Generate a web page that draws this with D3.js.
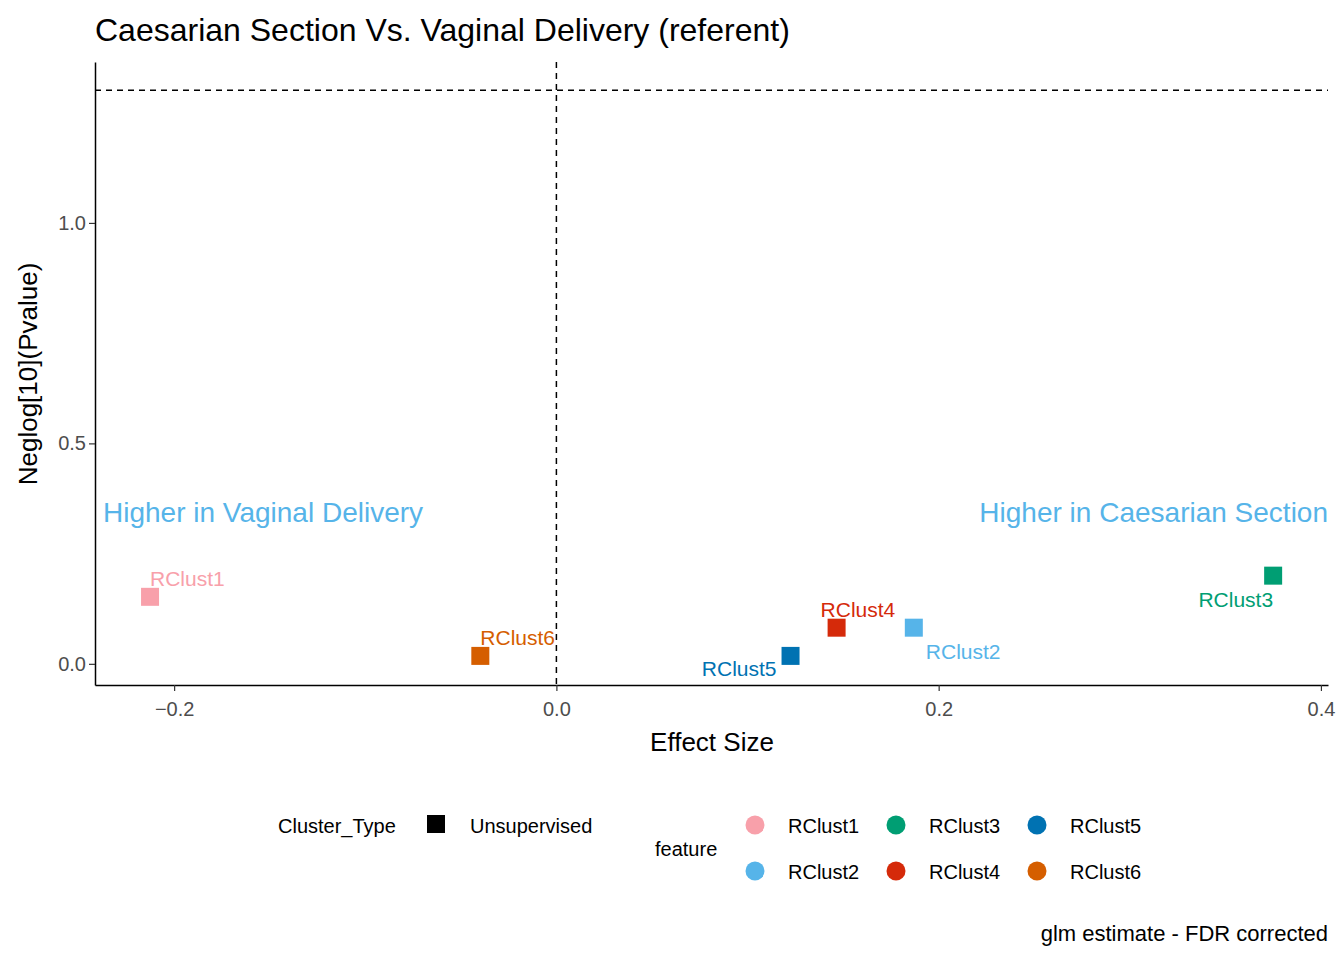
<!DOCTYPE html>
<html><head><meta charset="utf-8">
<script src="https://cdn.jsdelivr.net/npm/d3@7"></script>
<style>body{margin:0;background:#fff;font-family:Arial,"Liberation Sans",sans-serif}</style>
</head><body><svg id="c" width="1344" height="960"></svg>
<script>
var features = ['RClust1','RClust2','RClust3','RClust4','RClust5','RClust6']
var effect = [-0.2126, 0.187, 0.375, 0.1466, 0.1225, -0.0398]
var neglogP = [0.152, 0.082, 0.2, 0.082, 0.018, 0.018]
var colors = ['#F8A0AA','#56B4E9','#009E73','#D52A0A','#0072B2','#D55E00']
// label offsets (dx, dy, anchor) to mimic ggrepel placement
var labelPos = [[0,-18,'start'],[12,24,'start'],[0,24,'end'],[-16,-18,'start'],[-14,13,'end'],[0,-18,'start']]
var xTicks = [-0.2, 0, 0.2, 0.4]
var yTicks = [0, 0.5, 1.0]

var svg = d3.select('#c')
var x = d3.scaleLinear().domain([-0.2414, 0.4037]).range([95, 1328])
var y = d3.scaleLinear().domain([-0.048, 1.365]).range([685, 62])

svg.append('text').attr('x', 95).attr('y', 41).attr('font-size', 32).text('Caesarian Section Vs. Vaginal Delivery (referent)')

var xa = svg.append('g').attr('transform', 'translate(0,685)')
  .call(d3.axisBottom(x).tickValues(xTicks).tickFormat(d3.format('.1f')).tickSizeOuter(0))
var ya = svg.append('g').attr('transform', 'translate(95,0)')
  .call(d3.axisLeft(y).tickValues(yTicks).tickFormat(d3.format('.1f')).tickSizeOuter(0))
;[xa, ya].forEach(function(a) {
  a.selectAll('path').attr('stroke', '#000').attr('stroke-width', 1.5)
  a.selectAll('line').attr('stroke', '#333').attr('stroke-width', 1.2)
  a.selectAll('text').attr('font-size', 20).attr('fill', '#4d4d4d').attr('font-family', 'Arial,Liberation Sans')
})
xa.selectAll('text').attr('dy', '1.1em')

svg.append('text').attr('x', 712).attr('y', 751).attr('text-anchor', 'middle').attr('font-size', 26).text('Effect Size')
svg.append('text').attr('transform', 'translate(37,374) rotate(-90)').attr('text-anchor', 'middle').attr('font-size', 26).text('Neglog[10](Pvalue)')

svg.append('line').attr('x1', 95).attr('x2', 1328).attr('y1', y(1.301)).attr('y2', y(1.301))
  .attr('stroke', '#000').attr('stroke-width', 1.5).attr('stroke-dasharray', '6,5')
svg.append('line').attr('x1', x(0)).attr('x2', x(0)).attr('y1', 62).attr('y2', 685)
  .attr('stroke', '#000').attr('stroke-width', 1.5).attr('stroke-dasharray', '6,5')

svg.append('text').attr('x', 103).attr('y', 522).attr('font-size', 28).attr('fill', '#56B4E9').text('Higher in Vaginal Delivery')
svg.append('text').attr('x', 1328).attr('y', 522).attr('text-anchor', 'end').attr('font-size', 28).attr('fill', '#56B4E9').text('Higher in Caesarian Section')

var pts = svg.selectAll('.pt').data(features).enter()
pts.append('rect').attr('x', function(d, i) { return x(effect[i]) - 9 }).attr('y', function(d, i) { return y(neglogP[i]) - 9 })
  .attr('width', 18).attr('height', 18).attr('fill', function(d, i) { return colors[i] })
pts.append('text').attr('x', function(d, i) { return x(effect[i]) + labelPos[i][0] })
  .attr('y', function(d, i) { return y(neglogP[i]) + labelPos[i][1] + 7 })
  .attr('text-anchor', function(d, i) { return labelPos[i][2] })
  .attr('font-size', 21).attr('fill', function(d, i) { return colors[i] }).text(function(d) { return d })

// legends
svg.append('text').attr('x', 278).attr('y', 833).attr('font-size', 20).text('Cluster_Type')
svg.append('rect').attr('x', 427).attr('y', 815).attr('width', 18).attr('height', 18).attr('fill', '#000')
svg.append('text').attr('x', 470).attr('y', 833).attr('font-size', 20).text('Unsupervised')
svg.append('text').attr('x', 655).attr('y', 856).attr('font-size', 20).text('feature')
features.forEach(function(f, i) {
  var col = Math.floor(i / 2), row = i % 2
  var cx = 755 + col * 141, cy = 825 + row * 46
  svg.append('circle').attr('cx', cx).attr('cy', cy).attr('r', 9.5).attr('fill', colors[i])
  svg.append('text').attr('x', cx + 33).attr('y', cy + 8).attr('font-size', 20).text(f)
})
svg.append('text').attr('x', 1328).attr('y', 941).attr('text-anchor', 'end').attr('font-size', 22).text('glm estimate - FDR corrected')
</script></body></html>
